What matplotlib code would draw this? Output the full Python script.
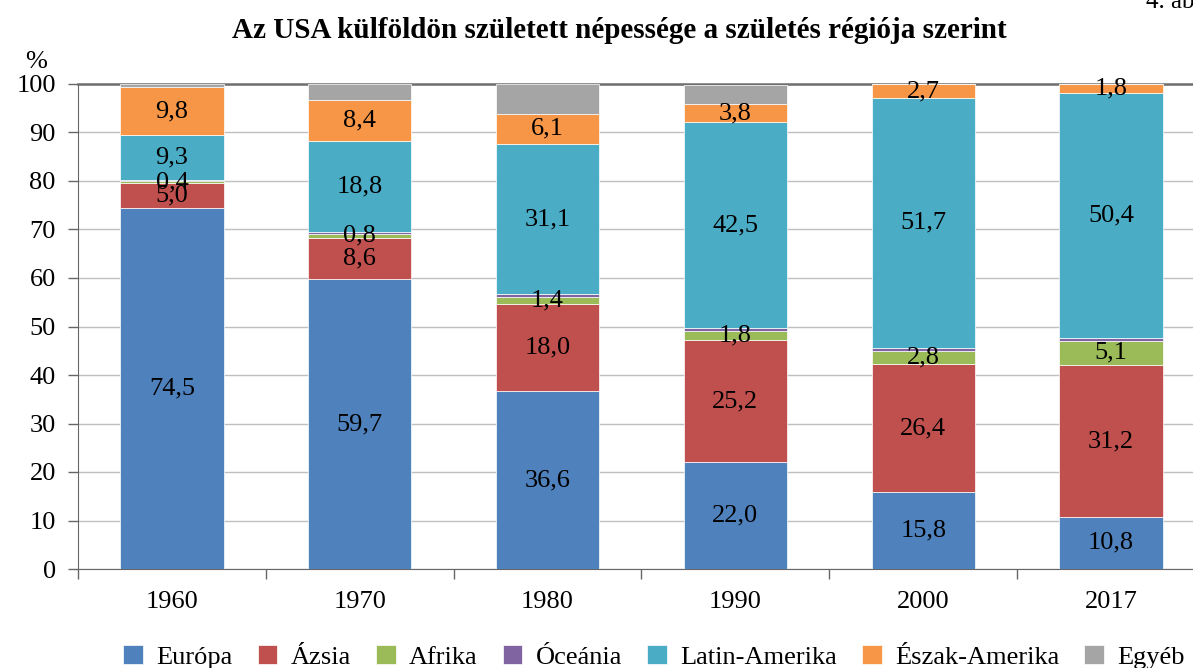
import numpy as np
import matplotlib
matplotlib.use("Agg")
import matplotlib.pyplot as plt

plt.rcParams['font.family'] = ['Liberation Serif', 'DejaVu Serif']

years = ['1960', '1970', '1980', '1990', '2000', '2017']
regions = ['Európa', 'Ázsia', 'Afrika', 'Óceánia', 'Latin-Amerika', 'Észak-Amerika', 'Egyéb']
europa = [74.5, 59.7, 36.6, 22.0, 15.8, 10.8]
azsia = [5.0, 8.6, 18.0, 25.2, 26.4, 31.2]
afrika = [0.4, 0.8, 1.4, 1.8, 2.8, 5.1]
oceania = [0.3, 0.4, 0.6, 0.6, 0.5, 0.6]
latin = [9.3, 18.8, 31.1, 42.5, 51.7, 50.4]
eszak = [9.8, 8.4, 6.1, 3.8, 2.7, 1.8]
egyeb = [0.7, 3.3, 6.2, 3.9, 0.1, 0.1]
series = [europa, azsia, afrika, oceania, latin, eszak, egyeb]
labelled = [True, True, True, False, True, True, False]
colors = ['#4F81BD', '#C0504D', '#9BBB59', '#8064A2', '#4BACC6', '#F79646', '#A5A5A5']

fig = plt.figure(figsize=(11.93, 6.68), dpi=100)
ax = fig.add_axes([78 / 1193, 99 / 668, 1127 / 1193, 485 / 668])

x = np.arange(len(years))
bottom = np.zeros(len(years))
for name, vals, col, lab in zip(regions, series, colors, labelled):
    vals = np.array(vals)
    ax.bar(x, vals, 0.55, bottom=bottom, color=col, label=name,
           edgecolor='white', linewidth=0.5, zorder=3)
    if lab:
        for xi, b, v in zip(x, bottom, vals):
            ax.text(xi, b + v / 2, f"{v:.1f}".replace('.', ','), ha='center', va='center',
                    fontsize=19, color='black', zorder=4)
    bottom += vals

ax.set_xlim(-0.5, 5.5)
ax.set_ylim(0, 100)
ax.set_yticks(range(0, 101, 10))
ax.tick_params(axis='y', direction='out', length=7, width=1, color='#666666', labelsize=19, pad=9)
ax.set_xticks(x)
ax.set_xticklabels(years)
ax.tick_params(axis='x', which='major', length=0, labelsize=19, pad=16)
ax.set_xticks(np.arange(-0.5, 6, 1), minor=True)
ax.tick_params(axis='x', which='minor', direction='out', length=7, width=1, color='#666666')
ax.grid(axis='y', color='#C0C0C0', linewidth=1, zorder=0)
ax.spines['right'].set_visible(False)
ax.spines['left'].set_color('#666666')
ax.spines['bottom'].set_color('#666666')
ax.spines['top'].set_color('#6E6E6E')
ax.spines['top'].set_linewidth(1.8)

fig.text(619 / 1193, 1 - 31 / 668, 'Az USA külföldön született népessége a születés régiója szerint',
         ha='center', va='center', fontsize=21, fontweight='bold')
fig.text(36 / 1193, 1 - 62 / 668, '%', ha='center', va='center', fontsize=19)
fig.text(1146 / 1193, 1 - 13 / 668, '4. ábra', ha='left', va='bottom', fontsize=18)

fig.legend(loc='center', bbox_to_anchor=(654 / 1193, 11 / 668), ncol=7, frameon=False,
           fontsize=19, handlelength=0.75, handleheight=0.75, handletextpad=0.5,
           columnspacing=0.95, borderaxespad=0)

fig.savefig('out.png', dpi=100)
